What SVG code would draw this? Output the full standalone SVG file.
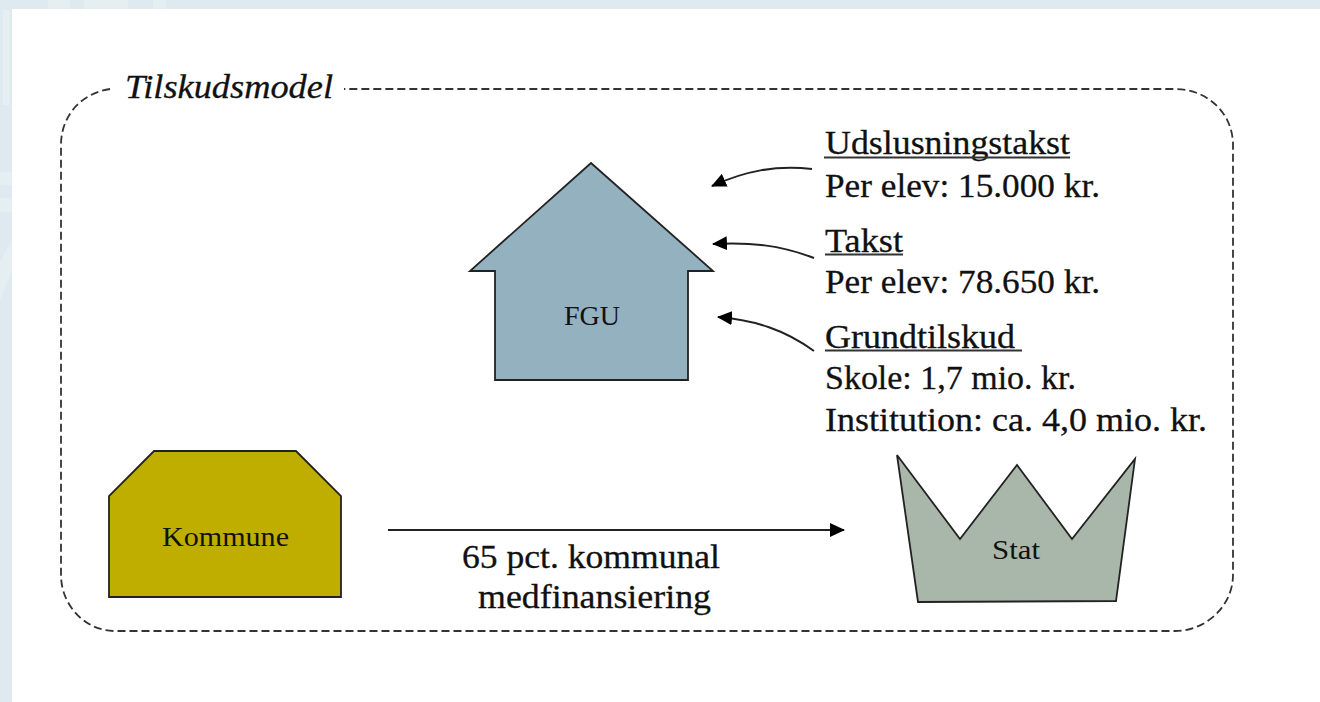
<svg xmlns="http://www.w3.org/2000/svg" width="1320" height="702" viewBox="0 0 1320 702">
<style>
.t{font-family:"Liberation Serif","DejaVu Serif",serif;fill:#111;stroke:#111;stroke-width:.3;font-size:34px}
.n{font-family:"Liberation Serif","DejaVu Serif",serif;fill:#111;font-size:28px}
.s{stroke:#222;stroke-width:1.8}
.c{fill:none;stroke:#222;stroke-width:2}
.u{stroke:#333;stroke-width:2}
.p{fill:#e5eff2}
</style>
<defs><marker id="a" markerUnits="userSpaceOnUse" markerWidth="15" markerHeight="14" refX="14" refY="7" orient="auto"><path d="M0 0L15 7L0 14Z" fill="#000"/></marker></defs>
<rect width="1320" height="702" fill="#deeaef"/>
<path class="p" d="M3 10H10V105H3ZM0 172H12V185H0ZM0 198H12V212H0ZM0 262L12 240V270L0 300ZM48 0H70V9H48ZM84 0H128V9H84ZM153 0H166V9H153Z"/>
<rect x="12" y="9" width="1308" height="693" fill="#fff"/>
<path id="frame" d="M110 89C82 93 61 115 61 145V575C61 605 85 631 115 631H1175C1207 631 1233 605 1233 575V145C1233 113 1207 89 1175 89H344" fill="none" stroke="#333" stroke-width="1.8" stroke-dasharray="8 4"/>
<text class="t" x="125" y="98" font-style="italic" textLength="208" lengthAdjust="spacingAndGlyphs">Tilskudsmodel</text>
<g id="fgu"><path class="s" fill="#94b1c0" d="M591 163L713 271H688V380H495V271H470Z"/><text class="n" x="564" y="325" textLength="56" lengthAdjust="spacingAndGlyphs">FGU</text></g>
<g id="kommune"><path class="s" fill="#bfae00" d="M154 451H296L341 496V597H109V496Z"/><text class="n" x="162" y="546" textLength="127" lengthAdjust="spacingAndGlyphs">Kommune</text></g>
<g id="stat"><path class="s" fill="#a9b7aa" d="M897 455L960 539L1017 465L1072 539L1135 459L1116 601L918 602Z"/><text class="n" x="992" y="559" textLength="48" lengthAdjust="spacingAndGlyphs">Stat</text></g>
<g id="connectors">
<path class="c" marker-end="url(#a)" d="M812 169C775 165 745 171 712 186"/>
<path class="c" marker-end="url(#a)" d="M814 258C780 245 750 242 713 244"/>
<path class="c" marker-end="url(#a)" d="M814 351C785 330 755 320 718 317"/>
<path class="c" marker-end="url(#a)" d="M388 530H844"/>
</g>
<g id="labels">
<text class="t" x="825" y="153.500" textLength="245" lengthAdjust="spacingAndGlyphs">Udslusningstakst</text><path class="u" d="M824 157.500H1070"/>
<text class="t" x="825" y="196.500" textLength="275" lengthAdjust="spacingAndGlyphs">Per elev: 15.000 kr.</text>
<text class="t" x="825" y="251.500" textLength="78" lengthAdjust="spacingAndGlyphs">Takst</text><path class="u" d="M825 254.500H903"/>
<text class="t" x="825" y="292.500" textLength="275" lengthAdjust="spacingAndGlyphs">Per elev: 78.650 kr.</text>
<text class="t" x="825" y="348" textLength="190" lengthAdjust="spacingAndGlyphs">Grundtilskud</text><path class="u" d="M825 350.500H1022"/>
<text class="t" x="825" y="389" textLength="251" lengthAdjust="spacingAndGlyphs">Skole: 1,7 mio. kr.</text>
<text class="t" x="825" y="430.500" textLength="382" lengthAdjust="spacingAndGlyphs">Institution: ca. 4,0 mio. kr.</text>
<text class="t" x="462" y="567.500" textLength="258" lengthAdjust="spacingAndGlyphs">65 pct. kommunal</text>
<text class="t" x="478" y="608" textLength="233" lengthAdjust="spacingAndGlyphs">medfinansiering</text>
</g>
</svg>
